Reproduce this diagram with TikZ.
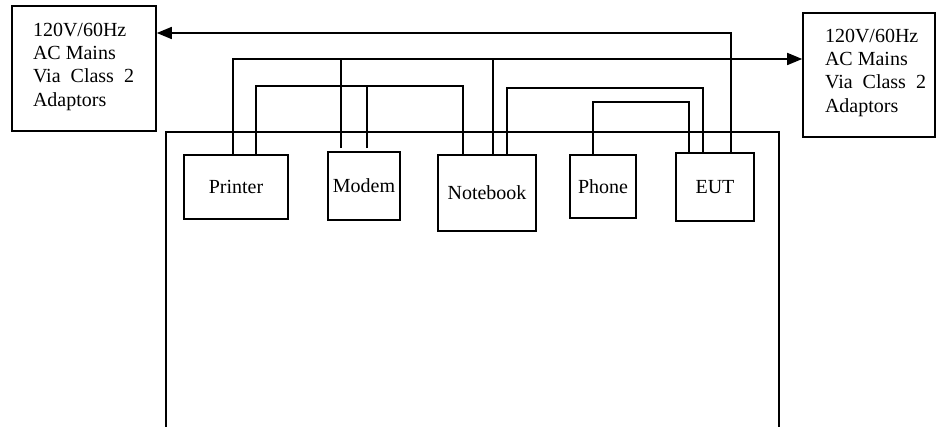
\documentclass[tikz,border=0pt]{standalone}
\usepackage{fontspec}
\setmainfont{Liberation Serif}
\usetikzlibrary{arrows.meta}
\begin{document}
\begin{tikzpicture}[x=1pt, y=-1pt, line width=1.6pt,
  every node/.style={font=\fontsize{20}{23.3}\selectfont},
  geraet/.style={draw, inner sep=0pt},
  netz/.style={draw, inner sep=0pt},
  netztext/.style={anchor=north west, align=left, inner sep=0pt},
  pfeil/.style={-{Triangle[length=15pt,width=12pt]}}]
  \useasboundingbox (0,0) rectangle (936,427);
  % Netzteile
  \node[netz, minimum width=144pt, minimum height=125pt] (lmains) at (84,68.5) {};
  \node[netztext] (ltext) at ([shift={(21,17)}]lmains.north west) {120V/60Hz\\AC Mains\\Via\ \ Class\ \ 2\\Adaptors};
  \node[netz, minimum width=132pt, minimum height=124pt] (rmains) at (869,75) {};
  \node[netztext] (rtext) at ([shift={(22,16)}]rmains.north west) {120V/60Hz\\AC Mains\\Via\ \ Class\ \ 2\\Adaptors};
  % Geraete
  \node[geraet, minimum width=104pt, minimum height=64pt] (printer) at (236,187) {Printer};
  \node[geraet, minimum width=72pt, minimum height=68pt] (modem) at (364,186) {Modem};
  \node[geraet, minimum width=98pt, minimum height=76pt] (notebook) at (487,193) {Notebook};
  \node[geraet, minimum width=66pt, minimum height=63pt] (phone) at (603,186.5) {Phone};
  \node[geraet, minimum width=78pt, minimum height=68pt] (eut) at (715,187) {EUT};
  % Tisch
  \draw (166,427) |- (779,132) -- (779,427);
  % Anschluesse
  \coordinate (busA) at (0,33);
  \coordinate (busB) at (0,59);
  \coordinate (busC) at (0,86);
  \coordinate (busD) at (0,88);
  \coordinate (busE) at (0,102);
  \coordinate (pr1) at ([xshift=50pt]printer.north west);
  \coordinate (pr2) at ([xshift=73pt]printer.north west);
  \coordinate (mo1) at ([xshift=14pt,yshift=3pt]modem.north west);
  \coordinate (mo2) at ([xshift=40pt,yshift=3pt]modem.north west);
  \coordinate (nb1) at ([xshift=26pt]notebook.north west);
  \coordinate (nb2) at ([xshift=56pt]notebook.north west);
  \coordinate (nb3) at ([xshift=70pt]notebook.north west);
  \coordinate (ph1) at ([xshift=24pt]phone.north west);
  \coordinate (eu1) at ([xshift=14pt]eut.north west);
  \coordinate (eu2) at ([xshift=28pt]eut.north west);
  \coordinate (eu3) at ([xshift=56pt]eut.north west);
  % Leitungen
  \draw[pfeil] (eu3) |- (busA -| lmains.east);
  \draw[pfeil] (pr1) |- (busB -| rmains.west);
  \draw (mo1) -- (mo1 |- busB);
  \draw (nb2) -- (nb2 |- busB);
  \draw (pr2) |- (nb1 |- busC) -- (nb1);
  \draw (mo2) -- (mo2 |- busC);
  \draw (nb3) |- (eu2 |- busD) -- (eu2);
  \draw (ph1) |- (eu1 |- busE) -- (eu1);
\end{tikzpicture}
\end{document}
